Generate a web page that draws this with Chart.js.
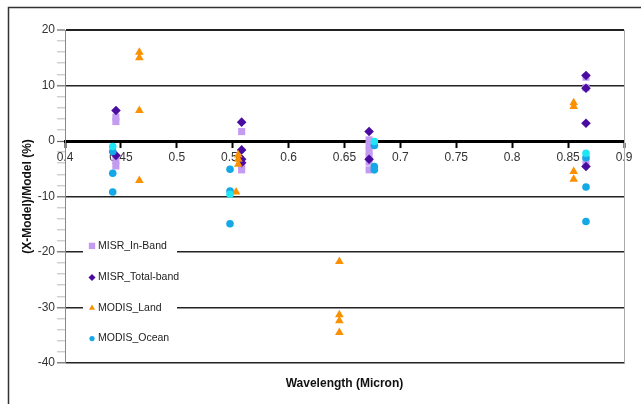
<!DOCTYPE html>
<html>
<head>
<meta charset="utf-8">
<script src="https://cdn.jsdelivr.net/npm/chart.js@4/dist/chart.umd.min.js"></script>
<style>
  html, body { margin: 0; padding: 0; background: #fff; }
  #wrap { width: 641px; height: 404px; position: relative; }
</style>
</head>
<body>
<div id="wrap"><canvas id="c"></canvas></div>
<script>
// ---- Data ----
const seriesNames = ['MISR_In-Band', 'MISR_Total-band', 'MODIS_Land', 'MODIS_Ocean'];

const inBandX = [0.4455, 0.4455, 0.4455, 0.4455, 0.558, 0.558, 0.558, 0.672, 0.672, 0.672, 0.672, 0.672, 0.672, 0.866, 0.866, 0.866];
const inBandY = [4.3, 3.5, -3.5, -4.5, 1.7, -4.5, -5.2, 0.2, -0.8, -1.8, -2.8, -3.8, -5.2, 11.5, 9.6, -3.7];

const totalX = [0.4456, 0.4456, 0.558, 0.558, 0.558, 0.558, 0.672, 0.672, 0.866, 0.866, 0.866, 0.866];
const totalY = [5.5, -2.6, 3.4, -1.6, -3.3, -3.9, 1.7, -3.3, 11.8, 9.5, 3.2, -4.6];

const landX = [0.4665, 0.4665, 0.4665, 0.4665, 0.555, 0.555, 0.555, 0.553, 0.6454, 0.6454, 0.6454, 0.6454, 0.855, 0.855, 0.855, 0.855];
const landY = [16, 15, 5.5, -7.1, -2.5, -3.3, -4.2, -9.2, -21.7, -31.3, -32.4, -34.5, 6.9, 6.2, -5.5, -6.9];

const oceanX = [0.4427, 0.4427, 0.4427, 0.5476, 0.5476, 0.5476, 0.6767, 0.6767, 0.6767, 0.866, 0.866, 0.866];
const oceanY = [-1.9, -5.8, -9.2, -5.1, -9.0, -14.9, -0.8, -4.6, -5.2, -3.0, -8.3, -14.5];

// unlabelled cyan points
const cyanX = [0.4427, 0.5476, 0.6767, 0.866];
const cyanY = [-1.0, -9.6, -0.1, -2.2];

const xTicks = [0.4, 0.45, 0.5, 0.55, 0.6, 0.65, 0.7, 0.75, 0.8, 0.85, 0.9];
const yTickLabels = [20, 10, 0, -10, -20, -30, -40];

function pts(xs, ys) { return xs.map((x, i) => ({ x: x, y: ys[i] })); }

const FONT = "'Liberation Sans', Arial, sans-serif";

const bgPlugin = {
  id: 'bg',
  beforeDraw(chart) {
    const ctx = chart.ctx;
    ctx.save();
    ctx.fillStyle = '#fff';
    ctx.fillRect(0, 0, chart.width, chart.height);
    ctx.restore();
  },
  afterDraw(chart) {
    const ctx = chart.ctx;
    ctx.save();
    ctx.strokeStyle = '#333';
    ctx.lineWidth = 1.5;
    ctx.strokeRect(8.5, 7.5, 700, 500);
    ctx.restore();
  }
};

const legendPlugin = {
  id: 'inlegend',
  afterDatasetsDraw(chart) {
    const ctx = chart.ctx;
    const y = chart.scales.y;
    const left = 83, right = 177;
    const top = y.getPixelForValue(-13.5), bottom = y.getPixelForValue(-38.5);
    ctx.save();
    ctx.fillStyle = '#fff';
    ctx.fillRect(left, top, right - left, bottom - top);
    const rows = [-18.9, -24.6, -30.1, -35.6];
    ctx.font = '10.5px ' + FONT;
    ctx.textBaseline = 'middle';
    ctx.textAlign = 'left';
    for (let i = 0; i < 4; i++) {
      const ds = chart.data.datasets[i];
      const py = y.getPixelForValue(rows[i]);
      ctx.fillStyle = ds.backgroundColor;
      ctx.strokeStyle = ds.backgroundColor;
      Chart.helpers.drawPoint(ctx, { pointStyle: ds.pointStyle, radius: ds.legendRadius, borderWidth: 0, rotation: 0 }, 92, py);
      ctx.fillStyle = '#222';
      ctx.fillText(ds.label, 98, py);
    }
    ctx.restore();
  }
};

new Chart(document.getElementById('c'), {
  type: 'scatter',
  data: {
    datasets: [
      { label: seriesNames[0], data: pts(inBandX, inBandY), pointStyle: 'rect', pointRadius: 5, legendRadius: 4.5,
        backgroundColor: '#c39bf0', borderColor: '#c39bf0', borderWidth: 0, order: 4, xAxisID: 'x', yAxisID: 'y' },
      { label: seriesNames[1], data: pts(totalX, totalY), pointStyle: 'rectRot', pointRadius: 4.8, legendRadius: 3.5,
        backgroundColor: '#4a0ca0', borderColor: '#4a0ca0', borderWidth: 0, order: 3, xAxisID: 'x', yAxisID: 'y' },
      { label: seriesNames[2], data: pts(landX, landY), pointStyle: 'triangle', pointRadius: 5, legendRadius: 3.5,
        backgroundColor: '#fb9000', borderColor: '#fb9000', borderWidth: 0, order: 2, xAxisID: 'x', yAxisID: 'y' },
      { label: seriesNames[3], data: pts(oceanX, oceanY), pointStyle: 'circle', pointRadius: 3.8, legendRadius: 2.6,
        backgroundColor: '#14a8e6', borderColor: '#14a8e6', borderWidth: 0, order: 1, xAxisID: 'x', yAxisID: 'y' },
      { label: 'cyan', data: pts(cyanX, cyanY), pointStyle: 'circle', pointRadius: 3.8,
        backgroundColor: '#1ee6f4', borderColor: '#1ee6f4', borderWidth: 0, order: 0, xAxisID: 'x', yAxisID: 'y' }
    ]
  },
  options: {
    responsive: true,
    maintainAspectRatio: false,
    animation: false,
    layout: { padding: { left: 16, top: 30, right: 17, bottom: 9 } },
    plugins: { legend: { display: false }, tooltip: { enabled: false } },
    scales: {
      x: {
        type: 'linear', position: 'bottom', min: 0.4, max: 0.9,
        grid: { display: false }, border: { display: false },
        ticks: { display: false },
        title: { display: true, text: 'Wavelength (Micron)', color: '#111',
                 font: { family: FONT, size: 12, weight: 'bold' }, padding: { top: 4, bottom: 4 } },
        afterFit(s) { s.height = 32; }
      },
      x2: {
        type: 'linear', position: { y: 0 }, min: 0.4, max: 0.9,
        afterBuildTicks(s) { s.ticks = xTicks.map(v => ({ value: v })); },
        grid: { drawOnChartArea: false, drawTicks: true, tickLength: 5, tickColor: '#000', tickWidth: 2 },
        border: { display: true, color: '#000', width: 3 },
        ticks: { color: '#333', font: { family: FONT, size: 12 }, padding: 4, autoSkip: false, maxRotation: 0,
                 callback: v => String(Number(v.toFixed(2))) }
      },
      y: {
        type: 'linear', position: 'left', min: -40, max: 20,
        ticks: { stepSize: 2, autoSkip: false, color: '#333', padding: 2,
                 font: { family: FONT, size: 12 },
                 callback: v => (yTickLabels.includes(v) ? String(v) : '') },
        grid: {
          drawTicks: true, tickLength: 8,
          color: c => (c.tick && c.tick.value % 10 === 0) ? (c.tick.value === 0 ? '#000' : '#222') : 'rgba(0,0,0,0)',
          lineWidth: c => (c.tick && c.tick.value === 0) ? 3 : (c.tick && c.tick.value === 20 ? 2 : 1.6),
          tickColor: c => (c.tick && c.tick.value % 10 === 0) ? '#666' : '#aaa',
          tickWidth: c => (c.tick && c.tick.value % 10 === 0) ? 1.2 : 0.8
        },
        border: { display: true, color: '#888', width: 1 },
        title: { display: true, text: '(X-Model)/Model (%)', color: '#111',
                 font: { family: FONT, size: 12, weight: 'bold' }, padding: { top: 4, bottom: 4 } },
        afterFit(s) { s.width = 49; }
      },
      y2: {
        type: 'linear', position: 'right', min: -40, max: 20,
        ticks: { display: false }, grid: { display: false },
        border: { display: true, color: '#aaa', width: 1 },
        afterFit(s) { s.width = 0; }
      }
    }
  },
  plugins: [bgPlugin, legendPlugin]
});
</script>
</body>
</html>
